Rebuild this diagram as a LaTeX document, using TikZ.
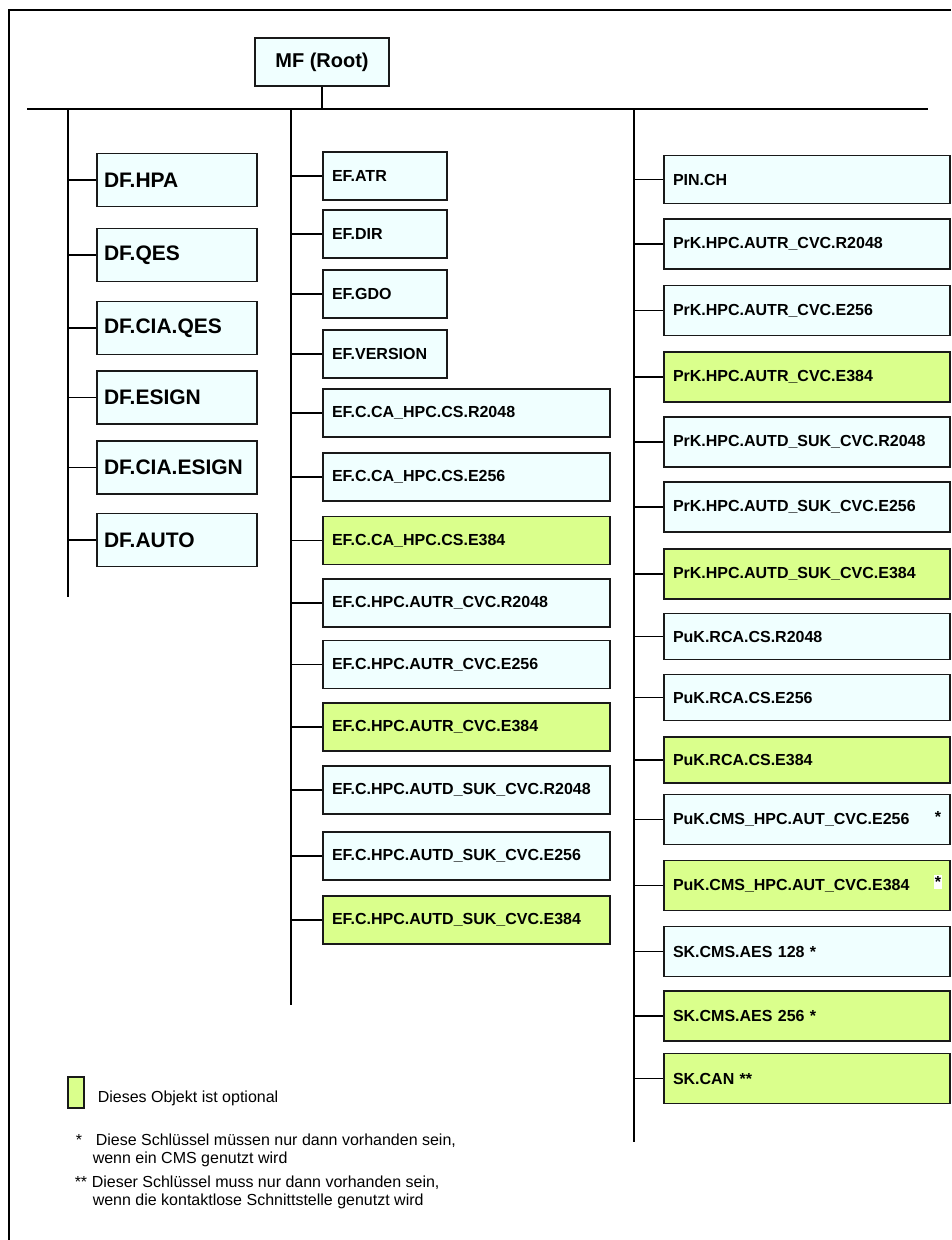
\documentclass[tikz,border=0pt]{standalone}
\usepackage{fontspec}
\setmainfont{Liberation Sans}
\definecolor{boxcyan}{RGB}{240,255,255}
\definecolor{optgreen}{RGB}{218,255,140}

\begin{document}
\begin{tikzpicture}[x=1pt,y=-1pt,line width=1.5pt,
  obj/.style={draw=black!90,fill=boxcyan,inner xsep=9pt,inner ysep=0pt,align=left,
    font=\bfseries\fontsize{16}{19}\selectfont,minimum height=48pt},
  rootbox/.style={obj,align=center,font=\bfseries\fontsize{20}{24}\selectfont,minimum width=134pt},
  dfbox/.style={obj,inner xsep=7pt,text width=146pt,minimum height=53pt,
    font=\bfseries\fontsize{21}{25}\selectfont},
  efshort/.style={obj,text width=106pt},
  eflong/.style={obj,text width=269pt},
  keybox/.style={obj,text width=268pt,minimum height=50pt},
  opt/.style={fill=optgreen},
  legtext/.style={anchor=base west,inner sep=0pt,font=\fontsize{16}{18}\selectfont}]
  \useasboundingbox (0,0) rectangle (951,1240);
  % Frame
  \draw (9,1240) -- (9,10) -- (951,10);
  % Root and bus
  \node[rootbox] (root) at (322,62) {MF (Root)};
  \coordinate (busl) at (27,109);
  \coordinate (busr) at (928,109);
  \draw (busl) -- (busr);
  \draw (root.south) -- (root.south |- busl);
  % Branch lines
  \coordinate (dfline) at (68,109);
  \coordinate (efline) at (291,109);
  \coordinate (keyline) at (634,109);
  \draw (dfline) -- (68,597);
  \draw (efline) -- (291,1005);
  \draw (keyline) -- (634,1142);
  % DF column
  \node[dfbox] (hpa) at (177,180) {DF.HPA};
  \node[dfbox] (qes) at (177,255) {DF.QES};
  \node[dfbox] (ciaqes) at (177,328) {DF.CIA.QES};
  \node[dfbox] (esign) at (177,397.5) {DF.ESIGN};
  \node[dfbox] (ciaesign) at (177,467.5) {DF.CIA.ESIGN};
  \node[dfbox] (auto) at (177,540) {DF.AUTO};
  % EF column
  \node[efshort] (atr) at (385,176) {EF.ATR};
  \node[efshort] (dir) at (385,234) {EF.DIR};
  \node[efshort] (gdo) at (385,294) {EF.GDO};
  \node[efshort] (version) at (385,354) {EF.VERSION};
  \node[eflong] (cacsr) at (466.5,413) {EF.C.CA\_HPC.CS.R2048};
  \node[eflong] (cacsea) at (466.5,477) {EF.C.CA\_HPC.CS.E256};
  \node[eflong,opt] (cacseb) at (466.5,540.5) {EF.C.CA\_HPC.CS.E384};
  \node[eflong] (autrr) at (466.5,603) {EF.C.HPC.AUTR\_CVC.R2048};
  \node[eflong] (autrea) at (466.5,664.5) {EF.C.HPC.AUTR\_CVC.E256};
  \node[eflong,opt] (autreb) at (466.5,727) {EF.C.HPC.AUTR\_CVC.E384};
  \node[eflong] (autdr) at (466.5,790) {EF.C.HPC.AUTD\_SUK\_CVC.R2048};
  \node[eflong] (autdea) at (466.5,856) {EF.C.HPC.AUTD\_SUK\_CVC.E256};
  \node[eflong,opt] (autdeb) at (466.5,920) {EF.C.HPC.AUTD\_SUK\_CVC.E384};
  % Key column
  \node[keybox,minimum height=48pt] (pin) at (807,179.5) {PIN.CH};
  \node[keybox] (prkrr) at (807,244) {PrK.HPC.AUTR\_CVC.R2048};
  \node[keybox] (prkrea) at (807,310.5) {PrK.HPC.AUTR\_CVC.E256};
  \node[keybox,opt] (prkreb) at (807,377) {PrK.HPC.AUTR\_CVC.E384};
  \node[keybox] (prkdr) at (807,442) {PrK.HPC.AUTD\_SUK\_CVC.R2048};
  \node[keybox] (prkdea) at (807,507) {PrK.HPC.AUTD\_SUK\_CVC.E256};
  \node[keybox,opt] (prkdeb) at (807,574) {PrK.HPC.AUTD\_SUK\_CVC.E384};
  \node[keybox,minimum height=46pt] (pukr) at (807,636.5) {PuK.RCA.CS.R2048};
  \node[keybox,minimum height=46pt] (pukea) at (807,697.5) {PuK.RCA.CS.E256};
  \node[keybox,minimum height=46pt,opt] (pukeb) at (807,760) {PuK.RCA.CS.E384};
  \node[keybox] (cmsea) at (807,819.5) {PuK.CMS\_HPC.AUT\_CVC.E256};
  \node[keybox,opt] (cmseb) at (807,885.5) {PuK.CMS\_HPC.AUT\_CVC.E384};
  \node[keybox] (aesa) at (807,951.5) {SK.CMS.AES 128 *};
  \node[keybox,opt] (aesb) at (807,1016) {SK.CMS.AES 256 *};
  \node[keybox,opt] (can) at (807,1078.5) {SK.CAN **};
  % Stars beside the CMS keys
  \node[anchor=base,inner sep=0pt,font=\bfseries\fontsize{16}{19}\selectfont] (stara) at (938,822) {*};
  \node[anchor=base,inner xsep=0.5pt,inner ysep=1.5pt,fill=white,font=\bfseries\fontsize{16}{19}\selectfont] (starb) at (938,887) {*};
  % Connectors
  \foreach \n in {hpa,qes,ciaqes,esign,ciaesign,auto}
    \draw (dfline |- \n.west) -- (\n.west);
  \foreach \n in {atr,dir,gdo,version,cacsr,cacsea,cacseb,autrr,autrea,autreb,autdr,autdea,autdeb}
    \draw (efline |- \n.west) -- (\n.west);
  \foreach \n in {pin,prkrr,prkrea,prkreb,prkdr,prkdea,prkdeb,pukr,pukea,pukeb,cmsea,cmseb,aesa,aesb,can}
    \draw (keyline |- \n.west) -- (\n.west);
  % Legend
  \node[draw=black!90,fill=optgreen,inner sep=0pt,minimum width=16pt,minimum height=31pt] (lgdbox) at (76,1092.5) {};
  \node[legtext] (lgdtext) at (97,1102.7) {Dieses Objekt ist optional};
  \node[legtext] (notestara) at (75,1145.5) {*};
  \node[legtext] (noteaa) at (95,1145.5) {Diese Schlüssel müssen nur dann vorhanden sein,};
  \node[legtext] (noteab) at (92,1163.5) {wenn ein CMS genutzt wird};
  \node[legtext] (notestarb) at (74,1187.5) {**};
  \node[legtext] (noteba) at (91,1187.5) {Dieser Schlüssel muss nur dann vorhanden sein,};
  \node[legtext] (notebb) at (92,1205.5) {wenn die kontaktlose Schnittstelle genutzt wird};
\end{tikzpicture}
\end{document}
